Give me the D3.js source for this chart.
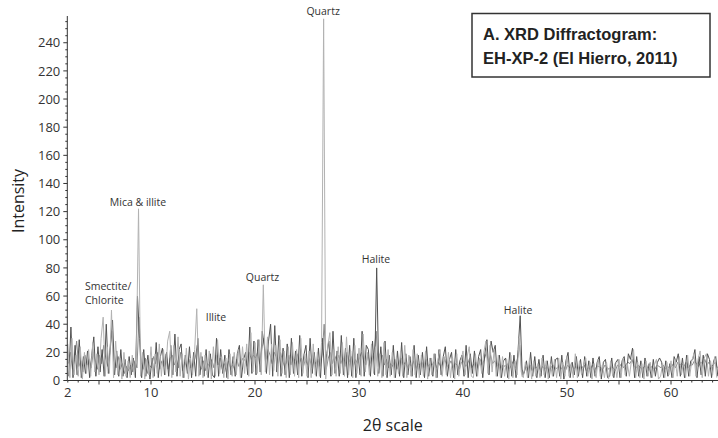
<!DOCTYPE html>
<html><head><meta charset="utf-8">
<script src="https://cdn.jsdelivr.net/npm/d3@7/dist/d3.min.js"></script>
<style>
body{margin:0;background:#fff;}
svg{display:block;}
</style></head>
<body>
<svg id="chart" width="718" height="438"></svg>
<script>
// ---------- DATA ----------
// Three overlaid scan traces, each sampled every 0.2° 2θ
const traceStep = 0.2;
const traceAStart = 2.0, traceBStart = 2.1, traceCStart = 2.05;
const traceA = [
26,2,30,4,18, 3,24,1,20,5, 22,3,27,6,19, 4,30,45,3,24, 5,50,2,28,4,
16,1,20,3,14, 2,18,4,21,122, 3,20,1,15,4, 24,2,19,5,26, 3,22,4,28,35,
2,25,6,31,3, 19,2,23,1,16, 4,22,51,3,20, 2,18,4,21,1, 24,3,29,5,17,
2,16,1,19,3, 20,4,22,2,24, 5,26,3,34,6, 27,5,29,4,68, 6,31,4,26,7,
25,3,29,5,21, 2,24,4,27,3, 22,2,30,5,19, 3,21,2,26,4, 20,3,27,257,1,
25,34,4,22,3, 24,5,27,3,31, 4,21,2,25,5, 23,3,33,6,20, 4,26,5,24,3,
19,2,27,4,22, 3,20,2,17,5, 21,3,25,2,18, 3,22,4,19,2, 18,3,21,1,16,
4,19,2,15,22, 3,17,4,20,2, 16,1,19,3,14, 21,4,17,24,3, 2,19,3,16,5,
20,28,5,25,6, 22,3,18,2,17, 3,15,1,18,2, 14,4,30,6,2, 13,2,16,1,14,
3,12,2,16,4, 14,1,12,3,15, 2,16,1,13,3, 17,3,12,2,19, 2,14,4,11,16,
3,13,1,12,2, 15,3,11,2,13, 1,14,3,12,2, 15,2,16,4,12, 3,14,22,2,13,
2,12,1,14,3, 13,2,11,15,1, 3,12,2,13,4, 14,2,15,3,17, 4,13,2,18,3,
14,19,3,15,21, 2,16,19,3,14, 4,17,2
];
const traceB = [
3,38,2,25,4, 29,2,17,5,21, 2,18,31,3,24, 6,22,3,40,5, 26,43,4,21,3,
22,3,15,2,17, 4,16,2,60,30, 2,22,3,18,1, 16,3,27,2,17, 23,4,20,3,25,
4,33,3,22,26, 2,18,5,24,2, 20,3,30,4,17, 3,22,2,19,4, 2,30,3,22,5,
18,2,22,4,17, 3,19,25,2,15, 20,4,38,5,28, 4,29,6,35,24, 5,28,40,3,39,
6,32,3,23,4, 26,2,30,5,21, 4,32,3,18,25, 2,30,5,20,3, 23,2,30,4,19,
28,3,35,5,21, 3,32,4,23,2, 25,3,30,2,19, 4,35,3,25,22, 3,28,4,80,5,
24,3,28,2,18, 4,25,2,21,3, 27,2,19,4,17, 3,25,2,18,4, 20,2,24,3,16,
3,19,2,22,4, 17,24,3,15,20, 2,22,4,14,18, 3,25,2,19,5, 21,3,17,22,2,
19,29,4,28,20, 25,3,18,2,14, 16,2,20,3,18, 2,22,46,3,6, 14,2,20,3,17,
2,15,3,18,2, 14,2,17,3,15, 16,3,18,1,14, 20,2,13,4,17, 3,15,2,17,3,
14,2,16,3,13, 17,1,13,15,2, 3,16,2,13,15, 2,14,17,3,19, 15,23,2,17,3,
14,2,16,3,12, 2,15,3,13,16, 13,2,14,3,12, 2,17,13,19,3, 16,2,18,3,14,
15,22,2,17,4, 18,3,19,15,2, 14,17,3
];
const traceC = [
12,20,8,15,28, 10,14,6,18,11, 15,9,20,13,8, 18,12,25,16,10, 20,35,14,9,17,
8,12,5,10,7, 11,6,14,9,45, 13,8,16,5,11, 9,17,12,20,8, 14,10,19,8,16,
18,11,15,9,20, 7,13,10,15,9, 12,16,25,11,8, 14,7,12,10,15, 9,18,11,16,8,
12,6,14,9,11, 8,15,10,13,16, 14,10,20,15,18, 16,20,12,22,30, 15,22,18,12,20,
17,12,20,14,10, 13,18,11,16,14, 19,12,16,10,15, 11,16,9,14,12, 15,10,18,40,8,
16,20,12,18,14, 18,12,16,10,20, 13,17,10,15,12, 16,20,14,11,18, 12,16,20,35,10,
14,18,11,15,9, 12,10,15,8,13, 16,11,13,9,12, 10,14,8,12,11, 13,9,15,10,12,
11,14,9,13,10, 12,15,10,11,14, 9,12,11,8,13, 14,10,12,16,9, 12,13,9,15,11,
15,20,13,18,12, 14,10,12,9,11, 10,12,8,11,14, 9,16,25,8,5, 10,8,11,7,9,
9,11,7,10,8, 10,7,9,11,8, 9,10,8,11,7, 11,9,12,8,10, 8,10,9,11,7,
9,8,11,7,10, 10,9,8,11,9, 8,10,9,7,11, 10,12,9,11,13, 12,15,10,9,11,
9,8,10,11,7, 10,9,8,11,10, 9,11,8,10,9, 10,12,9,13,11, 12,10,13,9,11,
11,14,12,10,13, 12,15,11,13,10, 11,13,9
];
const xTickLabels = [2,10,20,30,40,50,60];
const yTickLabels = [0,20,40,60,80,100,120,140,160,180,200,220,240];
const peakLabels = [
  {lines:["Quartz"], theta:26.55, inten:259.5, anchor:"middle"},
  {lines:["Mica & illite"], theta:8.75, inten:124, anchor:"middle"},
  {lines:["Smectite/","Chlorite"], theta:3.65, inten:64, anchor:"start"},
  {lines:["Illite"], theta:16.25, inten:42, anchor:"middle"},
  {lines:["Quartz"], theta:20.72, inten:70.5, anchor:"middle"},
  {lines:["Halite"], theta:31.63, inten:83.5, anchor:"middle"},
  {lines:["Halite"], theta:45.3, inten:47, anchor:"middle"}
];
const titleLines = ["A. XRD Diffractogram:","EH-XP-2 (El Hierro, 2011)"];
const xLabel = "2θ scale", yLabel = "Intensity";

// ---------- CHART ----------
const svg = d3.select("#chart");
const x = d3.scaleLinear().domain([2, 64.5]).range([67.8, 717.8]);
const y = d3.scaleLinear().domain([0, 260]).range([380.5, 14.6]);
const font = "'Open Sans', sans-serif";

const toPts = (arr, start) => arr.map((v,i)=>[start + i*traceStep, v]);
const line = d3.line().x(d=>x(d[0])).y(d=>y(d[1]));

const traces = [
  {data: toPts(traceC, traceCStart), color:"#8a8a8a"},
  {data: toPts(traceB, traceBStart), color:"#525252"},
  {data: toPts(traceA, traceAStart), color:"#b2b2b2"}
];
svg.selectAll("path.trace").data(traces).join("path").attr("class","trace")
  .attr("d", d=>line(d.data)).attr("fill","none")
  .attr("stroke", d=>d.color).attr("stroke-width",1);

// Y axis
const yMinor = d3.range(0, 256, 5);
const gy = svg.append("g").attr("transform","translate(67.3,0)");
gy.append("line").attr("y1", y(0)).attr("y2", y(259)).attr("stroke","#333");
gy.selectAll("line.t").data(yMinor).join("line").attr("class","t")
  .attr("x1", d=> d%20===0 ? -4 : -2).attr("x2",0)
  .attr("y1", d=>y(d)).attr("y2", d=>y(d)).attr("stroke","#333");
gy.selectAll("text").data(yTickLabels).join("text")
  .attr("x",-7).attr("y", d=>y(d)).attr("dy","0.36em")
  .attr("text-anchor","end").attr("font-family",font).attr("font-size",13)
  .attr("fill","#333").text(d=>d);

// X axis
const xMinor = d3.range(2, 65, 1);
const gx = svg.append("g").attr("transform","translate(0,380.5)");
gx.append("line").attr("x1", x(2)-0.5).attr("x2", 718).attr("stroke","#333");
gx.selectAll("line.t").data(xMinor).join("line").attr("class","t")
  .attr("x1", d=>x(d)).attr("x2", d=>x(d))
  .attr("y1",0).attr("y2", d=> d%5===0 ? 4 : 2).attr("stroke","#333");
gx.selectAll("text").data(xTickLabels).join("text")
  .attr("x", d=>x(d)).attr("y",16.5)
  .attr("text-anchor","middle").attr("font-family",font).attr("font-size",13)
  .attr("fill","#333").text(d=>d);

// Axis titles
svg.append("text").attr("x", x(2)+ (x(64.5)-x(2))/2).attr("y",431)
  .attr("text-anchor","middle").attr("font-family",font).attr("font-size",16)
  .attr("fill","#222").text(xLabel);
svg.append("text").attr("transform","translate(24,201) rotate(-90)")
  .attr("text-anchor","middle").attr("font-family",font).attr("font-size",16)
  .attr("fill","#222").text(yLabel);

// Peak labels
peakLabels.forEach(p=>{
  const t = svg.append("text").attr("text-anchor",p.anchor)
    .attr("font-family",font).attr("font-size",10.5).attr("fill","#333");
  p.lines.forEach((ln,i)=>{
    t.append("tspan").attr("x", x(p.theta)).attr("y", y(p.inten) + i*14).text(ln);
  });
});

// Title box
svg.append("rect").attr("x",472).attr("y",13.5).attr("width",238).attr("height",63.5)
  .attr("fill","#fff").attr("stroke","#333").attr("stroke-width",1.5);
svg.append("text").attr("font-family","'Liberation Sans', Arial, sans-serif")
  .attr("font-weight","bold").attr("font-size",16.5).attr("fill","#222")
  .selectAll("tspan").data(titleLines).join("tspan")
  .attr("x",483).attr("y",(d,i)=>40+i*23.5).text(d=>d);
</script>
</body></html>
